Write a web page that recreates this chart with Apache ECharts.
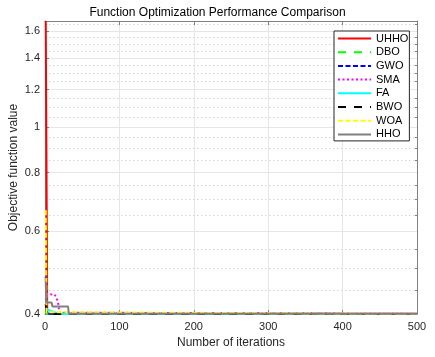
<!DOCTYPE html>
<html>
<head>
<meta charset="utf-8">
<script src="https://cdn.jsdelivr.net/npm/echarts@6/dist/echarts.min.js"></script>
<style>
html, body { margin: 0; padding: 0; background: #ffffff; }
#main { width: 435px; height: 357px; }
</style>
</head>
<body>
<div id="main"></div>
<script>
// legend order / styles
var names = ["UHHO", "DBO", "GWO", "SMA", "FA", "BWO", "WOA", "HHO"];
var colors = ["#ff0000", "#00ff00", "#0000ff", "#ff00ff", "#00ffff", "#000000", "#ffff00", "#808080"];
var dashes = ["solid", [8, 8], [5, 2.5], [2, 2.5], "solid", [8, 8], [5, 2.5], "solid"];

// convergence curves, [iteration, best value] at each change
var uhho = [[1, 1.68], [2, 1.68], [3, 0.4003], [500, 0.4003]];
var dbo = [[1, 0.405], [3, 0.4002], [500, 0.4002]];
var gwo = [[1, 0.48], [2, 0.41], [4, 0.4004], [500, 0.4002]];
var sma = [[1, 0.441], [13, 0.44], [17, 0.427], [19, 0.41], [20, 0.4025], [62, 0.4025], [64, 0.4002], [500, 0.4002]];
var fa = [[1, 0.41], [15, 0.402], [25, 0.4002], [500, 0.4002]];
var bwo = [[1, 0.42], [2, 0.4015], [12, 0.4002], [500, 0.4002]];
var woa = [[1, 0.665], [2, 0.4035], [30, 0.4035], [31, 0.4002], [500, 0.4002]];
var hho = [[1, 0.469], [2, 0.423], [9, 0.423], [10, 0.415], [31, 0.415], [32, 0.4005], [500, 0.4005]];
var curves = [uhho, dbo, gwo, sma, fa, bwo, woa, hho];

var xTicks = [0, 100, 200, 300, 400, 500];
var yTicks = [0.4, 0.6, 0.8, 1, 1.2, 1.4, 1.6];
var yMinor = [0.45, 0.5, 0.55, 0.65, 0.7, 0.75, 0.85, 0.9, 0.95, 1.05, 1.1, 1.15,
  1.25, 1.3, 1.35, 1.45, 1.5, 1.55, 1.65];
var yMin = 0.4, yMax = 1.68;

var axisColor = "#808080";
var textColor = "#262626";
var font = "Liberation Sans, Arial, sans-serif";

var chart = echarts.init(document.getElementById("main"), null, { renderer: "canvas" });

var series = names.map(function (n, i) {
  return {
    name: n,
    type: "line",
    data: curves[i],
    symbol: "none",
    showSymbol: false,
    clip: true,
    lineStyle: { color: colors[i], width: 2, type: dashes[i] },
    itemStyle: { color: colors[i] },
    z: 2 + i
  };
});

chart.setOption({
  animation: false,
  backgroundColor: "#ffffff",
  title: {
    text: "Function Optimization Performance Comparison",
    left: "center",
    top: 7,
    padding: 0,
    textStyle: { fontFamily: font, fontSize: 12, fontWeight: "normal", color: "#000000" }
  },
  grid: { left: 45, right: 18, top: 21, bottom: 43, outerBoundsMode: "none" },
  legend: {
    orient: "vertical",
    left: 334,
    top: 31,
    padding: [2, 1, 1, 3],
    itemWidth: 33,
    itemHeight: 12,
    itemGap: 2.7,
    itemTextGap: 0,
    backgroundColor: "#ffffff",
    borderColor: "#262626",
    borderWidth: 1,
    borderRadius: 0,
    itemStyle: { color: "transparent", borderWidth: 0, opacity: 0 },
    textStyle: { fontFamily: font, fontSize: 11, color: "#000000" },
    data: names
  },
  xAxis: [
    {
      type: "value",
      min: 0,
      max: 500,
      interval: 100,
      name: "Number of iterations",
      nameLocation: "middle",
      nameGap: 23,
      nameTextStyle: { fontFamily: font, fontSize: 12, color: textColor },
      axisLine: { onZero: false, lineStyle: { color: axisColor } },
      axisTick: { inside: true, length: 4, lineStyle: { color: axisColor } },
      axisLabel: { margin: 7, fontFamily: font, fontSize: 11, color: textColor },
      splitLine: { show: true, lineStyle: { color: "#e6e6e6", width: 1 } }
    },
    {
      type: "value",
      position: "top",
      min: 0,
      max: 500,
      interval: 100,
      axisLine: { onZero: false, lineStyle: { color: axisColor } },
      axisTick: { inside: true, length: 4, lineStyle: { color: axisColor } },
      axisLabel: { show: false },
      splitLine: { show: false }
    }
  ],
  yAxis: [
    {
      type: "log",
      logBase: 10,
      min: yMin,
      max: yMax,
      name: "Objective function value",
      nameLocation: "middle",
      nameGap: 25,
      nameMoveOverlap: false,
      nameTextStyle: { fontFamily: font, fontSize: 12, color: textColor },
      axisLine: { show: true, lineStyle: { color: axisColor } },
      axisTick: { inside: true, length: 4, customValues: yTicks, lineStyle: { color: axisColor } },
      axisLabel: { margin: 5, fontFamily: font, fontSize: 11, color: textColor, customValues: yTicks },
      splitLine: { show: true, lineStyle: { color: "#e6e6e6", width: 1 } },
      z: 1
    },
    {
      type: "log",
      logBase: 10,
      min: yMin,
      max: yMax,
      position: "left",
      axisLine: { show: false },
      axisTick: { inside: true, length: 2, customValues: yMinor, lineStyle: { color: axisColor } },
      axisLabel: { show: false, customValues: yMinor },
      splitLine: { show: true, lineStyle: { color: "#d4d4d4", width: 1, type: [1.5, 2.5] } },
      z: 0
    },
    {
      type: "log",
      logBase: 10,
      min: yMin,
      max: yMax,
      position: "right",
      axisLine: { show: true, lineStyle: { color: axisColor } },
      axisTick: { inside: true, length: 4, customValues: yTicks, lineStyle: { color: axisColor } },
      axisLabel: { show: false, customValues: yTicks },
      splitLine: { show: false }
    },
    {
      type: "log",
      logBase: 10,
      min: yMin,
      max: yMax,
      position: "right",
      axisLine: { show: false },
      axisTick: { inside: true, length: 2, customValues: yMinor, lineStyle: { color: axisColor } },
      axisLabel: { show: false, customValues: yMinor },
      splitLine: { show: false }
    }
  ],
  series: series
});
</script>
</body>
</html>
